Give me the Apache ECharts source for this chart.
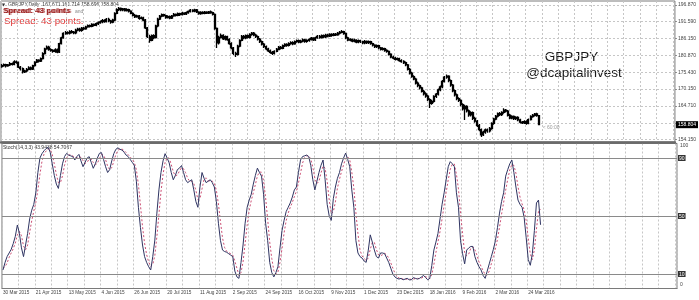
<!DOCTYPE html>
<html><head><meta charset="utf-8">
<script src="https://cdn.jsdelivr.net/npm/echarts@6/dist/echarts.min.js"></script>
<style>html,body{margin:0;padding:0;background:#fff}#c{width:699px;height:300px}</style>
</head><body><div id="c"></div>
<script>
const dateLabels = ['30 Mar 2015','21 Apr 2015','13 May 2015','4 Jun 2015','26 Jun 2015','20 Jul 2015','11 Aug 2015','2 Sep 2015','24 Sep 2015','16 Oct 2015','9 Nov 2015','1 Dec 2015','23 Dec 2015','18 Jan 2016','9 Feb 2016','2 Mar 2016','24 Mar 2016'];
const priceTicks = [196.870,191.590,186.150,180.870,175.430,170.150,164.710,159.270,154.150];
const priceLabels = [196.870,191.590,186.150,180.870,175.430,170.150,164.710,154.150];
const lastPrice = 158.804;
const stochTicks = [0,10,50,90,100];
const stochLevels = [10,50,90];

const opens = [
177.3,177.6,177.9,177.5,177.8,178.2,178.0,178.8,178.6,177.1,
176.6,175.6,175.9,176.4,176.9,176.5,177.6,178.7,179.3,179.0,
179.8,181.4,182.9,183.5,182.7,182.4,182.1,182.6,181.9,184.6,
186.4,187.8,188.1,187.9,188.4,188.2,188.0,188.9,189.2,188.8,
189.5,189.3,189.9,190.3,190.1,190.7,190.4,190.9,191.2,191.5,
191.9,191.6,192.3,191.8,191.4,192.1,194.2,195.4,195.8,195.3,
195.6,195.1,195.4,194.9,194.2,193.6,193.1,193.4,192.6,192.8,
192.1,189.6,186.8,185.6,187.1,186.5,190.2,192.4,193.3,193.8,
193.5,192.9,193.2,192.7,193.4,193.9,193.6,194.1,193.8,194.3,
194.0,194.4,194.8,195.2,194.9,195.3,194.6,194.1,194.5,194.2,
194.6,194.3,194.7,194.4,193.9,189.4,184.8,186.6,187.2,186.1,
186.8,185.9,184.6,183.2,181.5,181.2,183.8,185.6,186.9,186.4,
187.1,186.6,187.5,187.9,187.3,186.8,186.0,185.2,184.4,183.6,
182.9,182.3,181.8,181.5,182.1,182.8,183.4,183.1,183.9,184.3,
184.0,184.6,184.9,184.5,185.2,185.5,185.1,185.4,185.8,185.3,
185.6,185.9,186.3,185.8,186.4,186.9,186.5,187.1,186.7,187.3,
187.0,187.5,187.2,187.6,187.4,187.9,188.2,188.4,187.8,186.4,
185.7,185.9,185.4,185.7,185.1,185.5,185.2,184.8,185.3,184.9,
185.2,184.6,184.1,183.6,183.9,183.2,182.8,183.0,182.4,182.1,
181.2,180.3,180.0,179.6,179.8,179.2,178.9,178.5,177.8,176.4,
175.2,174.1,173.3,172.0,171.2,170.5,169.4,168.6,167.9,166.8,
165.6,166.2,167.8,168.5,169.9,170.8,172.6,173.9,174.2,172.8,
171.4,169.6,168.3,167.1,166.5,165.2,163.8,164.6,163.2,161.9,
162.6,160.8,159.9,158.6,157.2,155.6,156.4,157.1,156.8,157.6,
159.2,160.6,161.5,162.3,162.0,162.7,163.4,163.1,161.8,160.9,
161.4,160.7,161.1,160.3,159.6,159.4,159.8,159.2,160.4,161.4,
161.8,162.2,161.671];

const highs = [
178.1,178.3,178.2,178.1,178.7,178.6,179.3,179.2,178.9,177.5,
177.0,176.3,176.8,177.4,177.3,177.9,179.0,179.7,179.6,180.2,
181.8,183.3,184.0,183.9,183.1,182.8,183.1,183.0,184.9,186.8,
188.2,188.6,188.5,188.8,188.9,188.6,189.3,189.6,189.6,189.9,
189.9,190.3,190.7,190.7,191.1,191.0,191.3,191.6,191.9,192.4,
192.3,192.7,192.8,192.1,192.5,194.6,195.8,196.2,196.1,195.9,
195.9,195.8,195.7,195.2,194.6,194.0,193.8,193.7,193.2,193.1,
192.4,189.9,187.4,187.5,187.6,190.6,192.8,193.7,194.2,194.1,
193.8,193.6,193.5,193.7,194.3,194.2,194.5,194.4,194.7,194.6,
194.8,195.1,195.6,195.5,195.7,195.6,194.9,194.9,194.9,195.0,
194.9,195.0,195.1,194.7,194.2,189.7,187.1,187.8,187.6,187.2,
187.1,186.3,185.0,183.5,182.0,184.2,186.0,187.3,187.3,187.5,
187.5,187.9,188.3,188.3,187.7,187.2,186.4,185.6,184.8,184.0,
183.3,182.7,182.2,182.5,183.2,183.8,183.8,184.3,184.7,184.7,
185.0,185.3,185.3,185.6,185.9,185.9,185.8,186.2,186.1,186.0,
186.3,186.7,186.6,186.8,187.3,187.3,187.5,187.5,187.7,187.7,
187.9,187.9,188.0,188.0,188.3,188.6,188.9,188.7,188.1,186.8,
186.3,186.2,186.1,186.0,185.9,185.8,185.5,185.7,185.6,185.6,
185.5,184.9,184.4,184.3,184.2,183.5,183.4,183.3,182.8,182.4,
181.5,180.7,180.4,180.2,180.1,179.6,179.3,178.9,178.1,176.8,
175.6,174.5,173.7,172.5,171.6,170.9,169.9,169.1,168.3,167.2,
166.7,168.2,168.9,170.3,171.3,173.0,174.3,174.8,174.5,173.2,
171.7,170.0,168.7,167.5,166.9,165.6,165.1,165.0,163.6,163.1,
163.0,161.3,160.3,159.0,157.6,156.9,157.6,157.6,158.1,159.6,
161.0,161.9,162.7,162.8,163.1,164.0,163.8,163.5,162.2,161.8,
161.7,161.5,161.5,160.7,160.0,160.2,160.2,160.8,161.8,162.2,
162.5,162.6,161.714];

const lows = [
176.9,177.2,177.0,177.2,177.5,177.6,177.7,178.2,176.8,176.0,
175.1,175.2,175.5,176.1,176.1,176.2,177.3,178.4,178.6,178.7,
179.5,181.1,182.6,182.3,182.0,181.7,181.7,181.5,181.6,184.3,
186.1,187.4,187.5,187.5,187.8,187.6,187.6,188.5,188.4,188.4,
188.9,189.0,189.6,189.7,189.8,190.0,190.1,190.5,190.9,191.1,
191.2,191.3,191.4,190.9,191.1,191.8,193.9,195.0,194.9,194.9,
194.8,194.8,194.5,193.9,193.2,192.7,192.8,192.2,192.3,191.7,
189.2,186.4,184.9,185.3,186.0,186.2,189.8,192.1,193.0,193.1,
192.5,192.6,192.3,192.4,193.1,193.2,193.3,193.4,193.5,193.7,
193.7,194.1,194.5,194.6,194.6,194.3,193.8,193.8,193.9,193.9,
194.0,194.0,194.1,193.5,189.0,183.2,184.3,186.2,185.7,185.6,
185.5,184.2,182.8,181.0,180.3,180.8,183.4,185.3,186.0,186.0,
186.2,186.2,187.1,186.9,186.4,185.6,184.8,184.0,183.2,182.5,
181.9,181.4,181.0,181.1,181.8,182.5,182.7,182.8,183.5,183.6,
183.7,184.2,184.1,184.2,184.9,184.7,184.7,185.0,184.9,184.9,
185.2,185.6,185.4,185.4,186.1,186.1,186.2,186.3,186.4,186.6,
186.7,186.8,186.9,187.0,187.1,187.5,187.9,187.4,186.0,185.3,
185.3,185.0,185.0,184.7,184.7,184.8,184.4,184.4,184.5,184.5,
184.2,183.7,183.2,183.2,182.8,182.4,182.4,182.0,181.7,180.8,
179.9,179.6,179.2,179.2,178.8,178.5,178.1,177.4,176.0,174.8,
173.7,172.9,171.6,170.7,170.0,169.0,168.1,167.4,166.3,164.1,
165.1,165.8,167.3,168.1,169.4,170.4,172.2,173.4,172.3,170.9,
169.1,167.8,166.6,166.0,164.7,163.3,160.3,162.7,161.3,161.4,
160.3,159.4,158.1,156.7,154.9,155.2,155.9,156.2,156.3,157.2,
158.8,160.2,161.1,161.6,161.6,162.3,162.7,161.4,160.5,160.5,
160.3,160.3,159.9,159.2,159.0,159.0,158.8,158.9,160.1,161.0,
161.4,161.3,158.696];

const closes = [
177.6,177.9,177.5,177.8,178.2,178.0,178.8,178.6,177.1,176.6,
175.6,175.9,176.4,176.9,176.5,177.6,178.7,179.3,179.0,179.8,
181.4,182.9,183.5,182.7,182.4,182.1,182.6,181.9,184.6,186.4,
187.8,188.1,187.9,188.4,188.2,188.0,188.9,189.2,188.8,189.5,
189.3,189.9,190.3,190.1,190.7,190.4,190.9,191.2,191.5,191.9,
191.6,192.3,191.8,191.4,192.1,194.2,195.4,195.8,195.3,195.6,
195.1,195.4,194.9,194.2,193.6,193.1,193.4,192.6,192.8,192.1,
189.6,186.8,185.6,187.1,186.5,190.2,192.4,193.3,193.8,193.5,
192.9,193.2,192.7,193.4,193.9,193.6,194.1,193.8,194.3,194.0,
194.4,194.8,195.2,194.9,195.3,194.6,194.1,194.5,194.2,194.6,
194.3,194.7,194.4,193.9,189.4,184.8,186.6,187.2,186.1,186.8,
185.9,184.6,183.2,181.5,181.2,183.8,185.6,186.9,186.4,187.1,
186.6,187.5,187.9,187.3,186.8,186.0,185.2,184.4,183.6,182.9,
182.3,181.8,181.5,182.1,182.8,183.4,183.1,183.9,184.3,184.0,
184.6,184.9,184.5,185.2,185.5,185.1,185.4,185.8,185.3,185.6,
185.9,186.3,185.8,186.4,186.9,186.5,187.1,186.7,187.3,187.0,
187.5,187.2,187.6,187.4,187.9,188.2,188.4,187.8,186.4,185.7,
185.9,185.4,185.7,185.1,185.5,185.2,184.8,185.3,184.9,185.2,
184.6,184.1,183.6,183.9,183.2,182.8,183.0,182.4,182.1,181.2,
180.3,180.0,179.6,179.8,179.2,178.9,178.5,177.8,176.4,175.2,
174.1,173.3,172.0,171.2,170.5,169.4,168.6,167.9,166.8,165.6,
166.2,167.8,168.5,169.9,170.8,172.6,173.9,174.2,172.8,171.4,
169.6,168.3,167.1,166.5,165.2,163.8,164.6,163.2,161.9,162.6,
160.8,159.9,158.6,157.2,155.6,156.4,157.1,156.8,157.6,159.2,
160.6,161.5,162.3,162.0,162.7,163.4,163.1,161.8,160.9,161.4,
160.7,161.1,160.3,159.6,159.4,159.8,159.2,160.4,161.4,161.8,
162.2,161.7,158.804];

const stochMain = [
12.8,18,22,24.5,27,31,36,43.8,38,28,
22,30,38,48,54,58,66,80,90,93,
95,96.5,97.4,94,86,78,72,69,78,86,
91,93.2,92,91.5,90.9,88.6,91,92.5,88,84,
87,90,90.9,87,82.9,86,90,93.2,93.7,89,
84,80,82,88,93,96,97,96,95.5,94,
92,91,89,87,85,74,56,42,30,22,
18,15,12.8,22,33.4,52,68,80,88,93,
90,86.6,80,75,78,82,83,84.8,80,75,
73,74,75,68,60,56,70,80,76,73,
74,75,73,70,60,45,33,26.5,25.5,25,
24,23,22,12,8,7,18,30,45,56,
61,65,72,78,83,80,77.5,65,45,33,
18,11,8,11,15,28,40,47,53,56,
59,63,68,70,80,88.6,91,91.5,92,91,
85,75,68,74,80,85,88.6,75,58,50,
47,62,70,76,80,86,90,93.4,89,84,
68,56,33,24.5,22,21,19,18,26,37,
32,26.5,22,21,24.5,24.5,24,21,18,14,
10,8,7,6.5,7,6,6.5,7,6,6,
7.5,7,6.5,7,8,9,7.5,6,7,16,
26.5,32,38,48,58,66,75,84,87.5,86,
84,66,56,33,24,17,26.5,28,29,29,
22,18,15,12.8,9,7,12,17,22,27,
33,42,52,60,66,77.5,82,86,88.6,80,
70,61,58,56,49,35,20,16,24,40,
59,61,43.9438];

const stochSignal = [
14,15,17.6,21.5,24.5,27.5,31.3,36.9,39.3,36.6,
29.3,26.7,30,38.7,46.7,53.3,59.3,68,78.7,87.7,
92.7,94.8,96.3,96,92.5,86,78.7,73,73,77.7,
85,90.1,92.1,92.2,91.5,90.3,90.2,90.7,90.5,88.2,
86.3,87,89.3,89.3,86.9,85.3,86.3,89.7,92.3,92,
88.9,84.3,82,83.3,87.7,92.3,95.3,96.3,96.2,95.2,
93.8,92.3,90.7,89,87,82,71.7,57.3,42.7,31.3,
23.3,18.3,15.3,16.6,22.7,35.8,51.1,66.7,78.7,87,
90.3,89.9,85.5,80.5,77.7,78.3,81,83.3,82.6,79.9,
76,74,74,72.3,67.7,61.3,62,68.7,75.3,76.3,
74.3,74,74,72.7,67.7,58.3,46,34.8,28.3,25.7,
24.8,24,23,19,14,9,11,18.3,31,43.7,
54,60.7,66,71.7,77.7,80.3,80.2,74.2,62.5,47.7,
32,20.7,12.3,10,11.3,18,27.7,38.3,46.7,52,
56,59.3,63.3,67,72.7,79.5,86.5,90.4,91.5,91.5,
89.3,83.7,76,72.3,74,79.7,84.5,82.9,73.9,61,
51.7,53,59.7,69.3,75.3,80.7,85.3,89.8,90.8,88.8,
80.3,69.3,52.3,37.8,26.5,22.5,20.7,19.3,21,27,
31.7,31.8,26.8,23.2,22.5,23.3,24.3,23.2,21,17.7,
14,10.7,8.3,7.2,6.8,6.5,6.5,6.5,6.5,6.3,
6.5,6.8,7,6.8,7.2,8,8.2,7.5,6.8,9.7,
16.5,24.8,32.2,39.3,48,57.3,66.3,75,82.2,85.8,
85.8,78.7,68.7,51.7,37.7,24.7,22.5,23.8,27.8,28.7,
26.7,23,18.3,15.3,12.3,9.6,9.3,12,17,22,
27.3,34,42.3,51.3,59.3,67.8,75.2,81.8,85.5,84.9,
79.5,70.3,63,58.3,54.3,46.7,34.7,23.7,20,26.7,
41,53.3,54.7067];

// layout constants
const labelEvery = 16;
const slotCount = 329;
const FONT = 'Liberation Sans, Arial, sans-serif';

const categories = [];
for (let i = 0; i < slotCount; i++) {
  const k = i / labelEvery;
  categories.push(i % labelEvery === 0 && dateLabels[k] ? dateLabels[k] : '');
}
const candles = closes.map((c, i) => [opens[i], c, lows[i], highs[i]]);
const gridDash = {show: true, interval: 7, lineStyle: {color: '#c6c6c6', type: [2, 2], width: 1}};

const chart = echarts.init(document.getElementById('c'), null, {renderer: 'canvas'});
chart.setOption({
  animation: false,
  backgroundColor: '#fff',
  grid: [
    {left: 1, right: 22, top: 1, height: 141, show: true, borderColor: '#7a7a7a', borderWidth: 1, backgroundColor: 'transparent'},
    {left: 1, right: 22, top: 143.5, height: 145, show: true, borderColor: '#7a7a7a', borderWidth: 1, backgroundColor: 'transparent'}
  ],
  xAxis: [
    {type: 'category', gridIndex: 0, data: categories, boundaryGap: true,
     axisLine: {show: true, onZero: false, lineStyle: {color: '#6a6a6a', width: 2.5}},
     axisTick: {show: false}, axisLabel: {show: false}, splitLine: gridDash},
    {type: 'category', gridIndex: 1, data: categories, boundaryGap: true,
     axisLine: {show: true, onZero: false, lineStyle: {color: '#7a7a7a', width: 1}},
     axisTick: {show: false},
     axisLabel: {show: true, interval: labelEvery - 1, align: 'left', margin: 2, fontSize: 4.7, color: '#444', fontFamily: FONT, hideOverlap: false},
     splitLine: gridDash}
  ],
  yAxis: [
    {type: 'value', gridIndex: 0, position: 'right', min: 153.29, max: 198.142,
     axisLine: {show: false},
     axisTick: {show: true, customValues: priceTicks, length: 2, lineStyle: {color: '#888'}},
     axisLabel: {customValues: priceLabels, formatter: v => v.toFixed(3), fontSize: 5, color: '#444', margin: 3, fontFamily: FONT},
     splitLine: {show: true, lineStyle: {color: '#c6c6c6', type: [2, 2], width: 1}}},
    {type: 'value', gridIndex: 1, position: 'right', min: 0, max: 100,
     axisLine: {show: false},
     axisTick: {show: false, customValues: stochTicks},
     axisLabel: {customValues: stochTicks, margin: 1, fontFamily: FONT,
       formatter: v => stochLevels.indexOf(v) >= 0 ? '{box|' + v + '}' : (v === 100 ? '{top|100}' : '{bot|0}'),
       rich: {
         box: {backgroundColor: '#333', color: '#fff', fontSize: 5, padding: [1, 1, 0, 1], fontFamily: FONT},
         top: {fontSize: 5, color: '#444', padding: [5, 0, 0, 2], fontFamily: FONT},
         bot: {fontSize: 5, color: '#444', padding: [0, 0, 7, 2], fontFamily: FONT}
       }},
     splitLine: {show: false}}
  ],
  series: [
    {type: 'candlestick', name: 'GBPJPY', xAxisIndex: 0, yAxisIndex: 0, data: candles, barWidth: 1.5,
     itemStyle: {color: '#000', color0: '#000', borderColor: '#000', borderColor0: '#000', borderWidth: 1.3},
     markLine: {silent: true, symbol: 'none', animation: false,
       data: [{yAxis: lastPrice}],
       lineStyle: {color: 'transparent', width: 0},
       label: {show: true, position: 'end', formatter: lastPrice.toFixed(3), backgroundColor: '#000', color: '#fff',
               fontSize: 5, padding: [1, 2, 1, 2], distance: 1, fontFamily: FONT}},
     markPoint: {silent: true, symbol: 'circle', symbolSize: 0,
       data: [{coord: [closes.length - 1, 157.75]}],
       label: {show: true, position: 'right', distance: 4, formatter: '< 60:00', fontSize: 5, color: '#9a9a9a', fontFamily: FONT}}},
    {type: 'line', name: 'Main', xAxisIndex: 1, yAxisIndex: 1, data: stochMain, showSymbol: false, symbol: 'none',
     lineStyle: {color: '#2f3462', width: 1}, z: 3,
     markLine: {silent: true, symbol: 'none', animation: false,
       data: stochLevels.map(v => ({yAxis: v})),
       lineStyle: {color: '#8a8a8a', width: 1.2, type: 'solid'}, label: {show: false}}},
    {type: 'line', name: 'Signal', xAxisIndex: 1, yAxisIndex: 1, data: stochSignal, showSymbol: false, symbol: 'none',
     lineStyle: {color: '#cc4f74', width: 1, type: [2, 2]}, z: 2}
  ],
  graphic: [
    {type: 'text', left: 2, top: 3, style: {text: '▼', fontSize: 4, fontFamily: 'DejaVu Sans', fill: '#333'}},
    {type: 'text', left: 8, top: 2.5, style: {text: 'GBPJPY,Daily  161.671 161.714 158.696 158.804', fontSize: 5, fontFamily: FONT, fill: '#333'}},
    {type: 'text', left: 3, top: 7, style: {text: 'Spread: 43 points', fontSize: 8, fontWeight: 'bold', fontFamily: FONT, fill: '#9b1c1c'}},
    {type: 'text', left: 4.5, top: 7, style: {text: 'Spread: 43 points', fontSize: 8, fontWeight: 'bold', fontFamily: FONT, fill: '#9b1c1c', opacity: 0.6}},
    {type: 'text', left: 75, top: 9, style: {text: 'and', fontSize: 5, fontFamily: FONT, fill: '#888'}},
    {type: 'text', left: 4, top: 16, style: {text: 'Spread: 43 points.', fontSize: 9.8, fontFamily: FONT, fill: '#e03a3a'}},
    {type: 'text', x: 571.5, y: 57, style: {text: 'GBPJPY', fontSize: 13.5, fontFamily: FONT, fill: '#1a1a1a', align: 'center', verticalAlign: 'middle'}},
    {type: 'text', x: 574, y: 73, style: {text: '@dcapitalinvest', fontSize: 13.5, fontFamily: FONT, fill: '#1a1a1a', align: 'center', verticalAlign: 'middle'}},
    {type: 'text', left: 3, top: 145, style: {text: 'Stoch(14,3,3) 43.9438 54.7067', fontSize: 5, fontFamily: FONT, fill: '#333'}}
  ]
});
</script>
</body></html>
